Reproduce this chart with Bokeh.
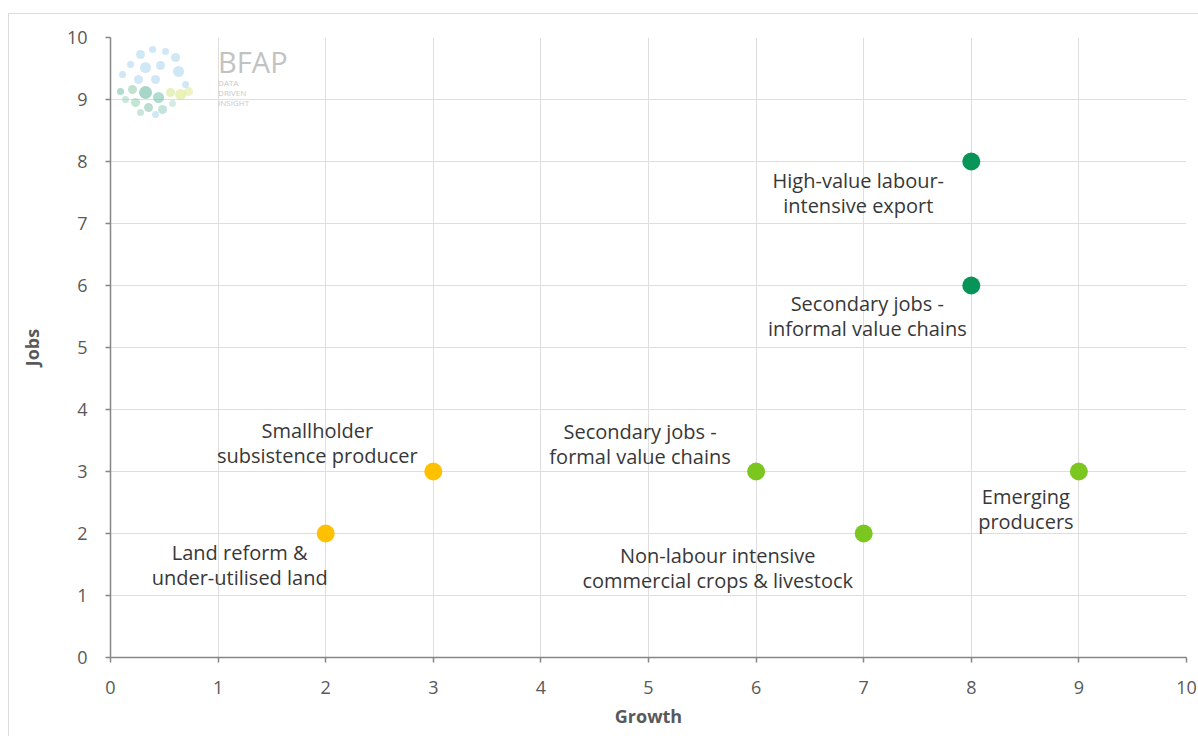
from bokeh.plotting import figure
from bokeh.models import ColumnDataSource, Range1d, FixedTicker
from bokeh.core.properties import value
from bokeh.embed import file_html
from bokeh.resources import INLINE

# Agricultural segments plotted by growth and jobs potential
segments = [
    "Land reform &\nunder-utilised land",
    "Smallholder\nsubsistence producer",
    "Secondary jobs -\nformal value chains",
    "Non-labour intensive\ncommercial crops & livestock",
    "Emerging\nproducers",
    "High-value labour-\nintensive export",
    "Secondary jobs -\ninformal value chains",
]
growth = [2, 3, 6, 7, 9, 8, 8]
jobs = [2, 3, 3, 2, 3, 8, 6]
group = ["low", "low", "mid", "mid", "mid", "high", "high"]

x_ticks = list(range(0, 11))
y_ticks = list(range(0, 11))

# styling
group_colors = {"low": "#FFC000", "mid": "#7CC620", "high": "#079459"}
label_dx = [-86, -116, -116, -146, -53, -113, -104]
label_dy = [19, -41, -40, 22, 25, 19, 18]
line_gap = 25
FONT = "Open Sans"

line1 = [s.split("\n")[0] for s in segments]
line2 = [s.split("\n")[1] for s in segments]
src = ColumnDataSource(dict(
    x=growth, y=jobs,
    color=[group_colors[g] for g in group],
    l1=line1, l2=line2,
    dx=label_dx, dy1=label_dy, dy2=[d + line_gap for d in label_dy],
))

p = figure(width=1190, height=723, output_backend="svg", toolbar_location=None,
           x_range=Range1d(0, 10), y_range=Range1d(0, 10),
           min_border_left=101, min_border_right=13, min_border_top=23, min_border_bottom=80)
p.margin = (13, 0, 0, 8)
p.styles = {"border-top": "1px solid #dcdcdc", "border-left": "1px solid #dcdcdc"}
p.outline_line_color = None
p.background_fill_color = "white"
p.border_fill_color = "white"

# faint logo in the upper-left corner
logo_px = [140, 152, 165, 175, 130, 145, 160, 178, 122, 138, 155, 185,
           120, 132, 145, 158, 135, 148, 162, 172, 180, 188, 170, 125, 140, 155]
logo_py = [55, 50, 52, 58, 65, 68, 66, 72, 75, 80, 80, 85,
           92, 90, 93, 98, 103, 108, 110, 104, 95, 92, 93, 100, 113, 115]
logo_sz = [9, 7, 7, 9, 7, 11, 9, 11, 7, 9, 9, 7,
           7, 9, 13, 11, 9, 9, 9, 7, 11, 9, 9, 7, 7, 7]
logo_col = ["#a9d3ec"] * 12 + ["#6fbfa6", "#8ccba8", "#5fb39a", "#6fbfa6", "#8fcfb5",
                                "#7fc1ac", "#8fcdc0", "#b5dcc8", "#d8e784", "#dfe98f",
                                "#cfe58a", "#9fd3bf", "#9fcdc5", "#a9d3ec"]
p.scatter([(px - 110) / 107.5 for px in logo_px], [(658 - py) / 62 for py in logo_py],
          size=logo_sz, color=logo_col, alpha=0.55, line_color=None)
p.text([1.0], [9.62], text=["BFAP"], text_font=value(FONT), text_font_size="29px",
       text_color="#c2c2c2", text_baseline="alphabetic")
p.text([1.0] * 3, [9.27, 9.11, 8.95], text=["DATA", "DRIVEN", "INSIGHT"],
       text_font=value(FONT), text_font_size="8px", text_color="#c8c8c8",
       text_baseline="alphabetic")

p.scatter("x", "y", source=src, size=18, color="color", line_color=None)

for col, dy in (("l1", "dy1"), ("l2", "dy2")):
    p.text("x", "y", text=col, source=src, x_offset="dx", y_offset=dy,
           text_font=value(FONT), text_font_size="20px", text_color="#383838",
           text_align="center", text_baseline="middle")

for ax in (p.xaxis[0], p.yaxis[0]):
    ax.axis_line_color = "#868686"
    ax.axis_line_width = 1.5
    ax.major_tick_line_color = "#868686"
    ax.major_tick_line_width = 1.5
    ax.major_tick_out = 5
    ax.major_tick_in = 0
    ax.minor_tick_line_color = None
    ax.major_label_text_font = FONT
    ax.major_label_text_font_size = "18px"
    ax.major_label_text_color = "#595959"
    ax.axis_label_text_font = FONT
    ax.axis_label_text_font_size = "18px"
    ax.axis_label_text_font_style = "bold"
    ax.axis_label_text_color = "#595959"

p.xaxis.ticker = FixedTicker(ticks=x_ticks)
p.yaxis.ticker = FixedTicker(ticks=y_ticks)
p.xaxis.axis_label = "Growth"
p.yaxis.axis_label = "Jobs"
p.xaxis.major_label_standoff = 18
p.yaxis.major_label_standoff = 18
p.xaxis.axis_label_standoff = 7
p.yaxis.axis_label_standoff = 20

p.xgrid.ticker = FixedTicker(ticks=x_ticks)
p.ygrid.ticker = FixedTicker(ticks=y_ticks)
p.grid.grid_line_color = "#dedede"
p.grid.grid_line_width = 1

open("out.html", "w").write(file_html(p, INLINE))
